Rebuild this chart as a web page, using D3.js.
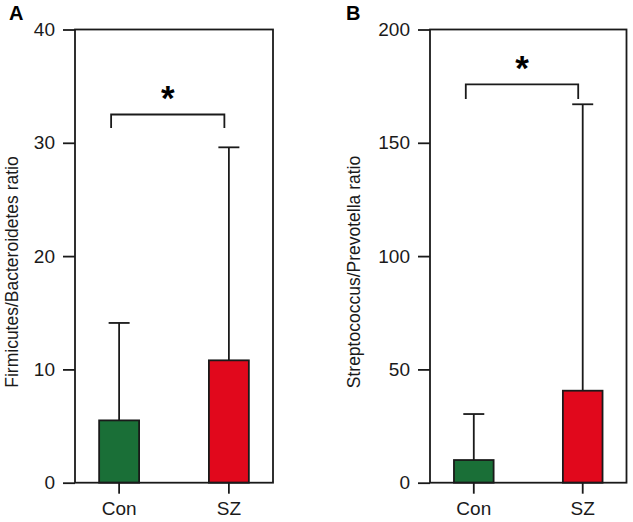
<!DOCTYPE html>
<html>
<head>
<meta charset="utf-8">
<script src="https://cdn.jsdelivr.net/npm/d3@7"></script>
<style>
  html, body { margin: 0; padding: 0; background: #fff; }
  svg { display: block; font-family: "Liberation Sans", Arial, Helvetica, sans-serif; }
</style>
</head>
<body>
<svg id="chart" width="633" height="522"></svg>
<script>
// ---- data ----
const categories = ["Con", "SZ"];
const colors = ["#1a6f37", "#e1081c"];

const fbMeans = [5.5, 10.8];
const fbErrTop = [14.1, 29.6];
const fbTicks = [0, 10, 20, 30, 40];

const spMeans = [10, 40.6];
const spErrTop = [30.3, 167];
const spTicks = [0, 50, 100, 150, 200];

const panels = [
  { letter: "A", label: "Firmicutes/Bacteroidetes ratio", means: fbMeans, errTop: fbErrTop, ticks: fbTicks,
    x0: 75, x1: 273, labelX: 12, letterX: 9, bracket: [32.5, 31.3] },
  { letter: "B", label: "Streptococcus/Prevotella ratio", means: spMeans, errTop: spErrTop, ticks: spTicks,
    x0: 430, x1: 626.5, labelX: 354, letterX: 346, bracket: [175.8, 169.3] }
];

const svg = d3.select("#chart");
const yTop = 29.5, yBot = 482.7;
const ink = "#1a1a1a";
const sw = 1.8;

panels.forEach(p => {
  const g = svg.append("g");
  const y = d3.scaleLinear().domain([p.ticks[0], p.ticks[p.ticks.length - 1]]).range([yBot, yTop]);
  const x = d3.scaleBand().domain(categories).range([p.x0, p.x1]).paddingInner(0.636).paddingOuter(0.22);
  const bw = x.bandwidth();
  const cx = c => x(c) + bw / 2;

  // error bars (drawn first, bars cover lower part)
  categories.forEach((c, i) => {
    g.append("line").attr("x1", cx(c)).attr("x2", cx(c))
      .attr("y1", y(p.means[i])).attr("y2", y(p.errTop[i]))
      .attr("stroke", ink).attr("stroke-width", sw);
    g.append("line").attr("x1", cx(c) - 10.5).attr("x2", cx(c) + 10.5)
      .attr("y1", y(p.errTop[i])).attr("y2", y(p.errTop[i]))
      .attr("stroke", ink).attr("stroke-width", sw);
  });

  // bars
  g.selectAll("rect.bar").data(categories).enter().append("rect")
    .attr("class", "bar")
    .attr("x", c => x(c))
    .attr("width", bw)
    .attr("y", (c, i) => y(p.means[i]))
    .attr("height", (c, i) => y(0) - y(p.means[i]))
    .attr("fill", (c, i) => colors[i])
    .attr("stroke", ink).attr("stroke-width", sw);

  // frame
  g.append("rect").attr("x", p.x0).attr("y", yTop)
    .attr("width", p.x1 - p.x0).attr("height", yBot - yTop)
    .attr("fill", "none").attr("stroke", ink).attr("stroke-width", sw);

  // y axis
  const ya = g.append("g").attr("transform", `translate(${p.x0},0)`)
    .call(d3.axisLeft(y).tickValues(p.ticks).tickSize(12).tickSizeOuter(0).tickPadding(8));
  ya.select(".domain").remove();
  ya.selectAll("line").attr("stroke", ink).attr("stroke-width", sw);
  ya.selectAll("text").attr("font-size", 19).attr("fill", ink).attr("font-family", "Liberation Sans, Arial, sans-serif");

  // x axis
  const xa = g.append("g").attr("transform", `translate(0,${yBot})`)
    .call(d3.axisBottom(x).tickSize(11).tickSizeOuter(0).tickPadding(8));
  xa.select(".domain").remove();
  xa.selectAll("line").attr("stroke", ink).attr("stroke-width", sw);
  xa.selectAll("text").attr("font-size", 19).attr("fill", ink).attr("font-family", "Liberation Sans, Arial, sans-serif");

  // y label
  g.append("text")
    .attr("transform", `translate(${p.labelX + 6},272) rotate(-90)`)
    .attr("text-anchor", "middle")
    .attr("font-size", 17.5).attr("fill", ink)
    .text(p.label);

  // panel letter
  g.append("text").attr("x", p.letterX).attr("y", 19.5)
    .attr("font-size", 20).attr("font-weight", "bold").attr("fill", "#000")
    .text(p.letter);

  // significance bracket
  const bxL = cx(categories[0]) - 8, bxR = cx(categories[1]) - 4.5;
  const by = y(p.bracket[0]), byb = y(p.bracket[1]);
  g.append("path")
    .attr("d", `M${bxL},${byb}V${by}H${bxR}V${byb}`)
    .attr("fill", "none").attr("stroke", ink).attr("stroke-width", sw);
  g.append("text").attr("x", (bxL + bxR) / 2).attr("y", by - 4)
    .attr("text-anchor", "middle").attr("font-size", 35).attr("font-weight", "bold").attr("fill", "#000")
    .text("*");
});
</script>
</body>
</html>
